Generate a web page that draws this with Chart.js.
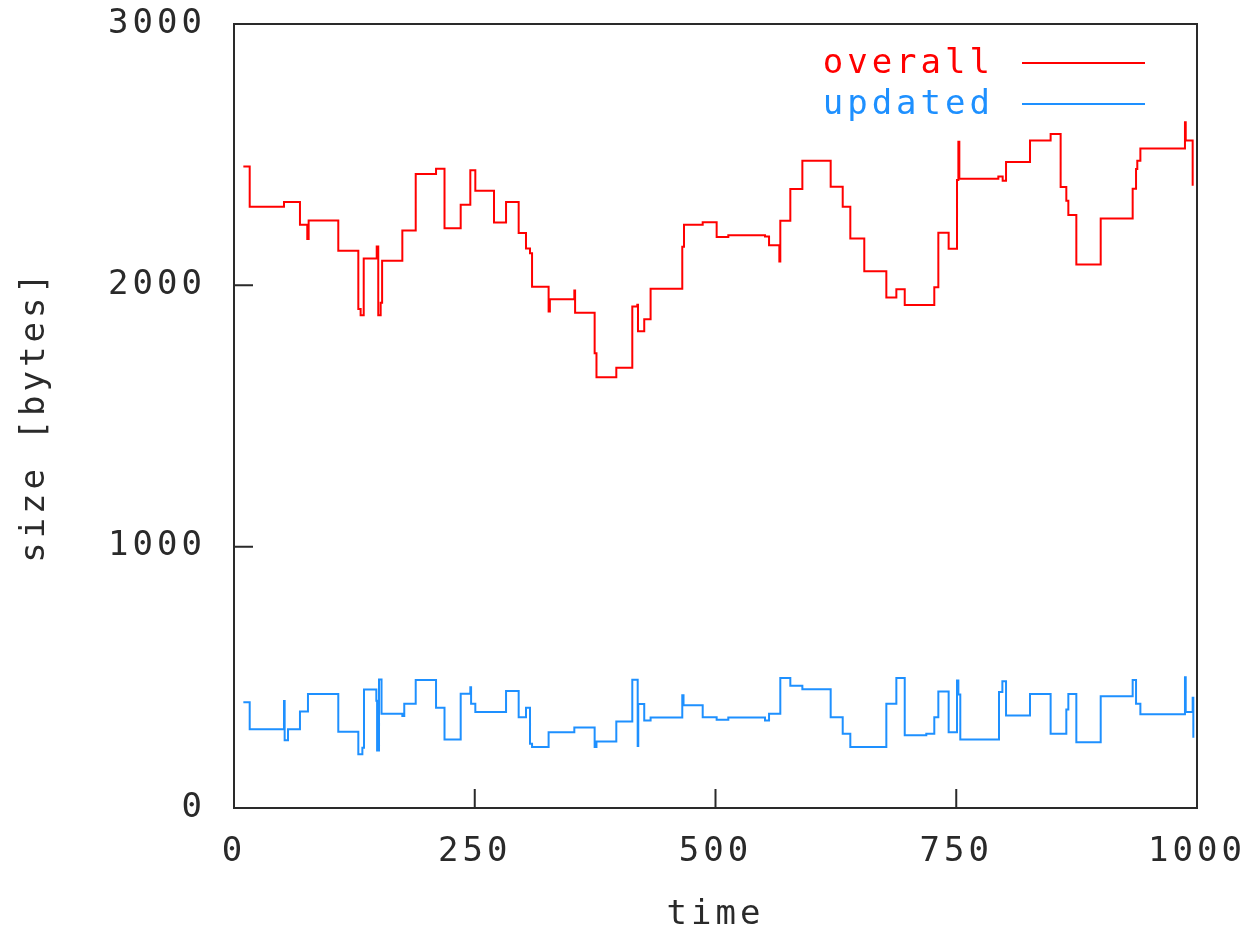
<!DOCTYPE html>
<html>
<head>
<meta charset="utf-8">
<script src="https://cdn.jsdelivr.net/npm/chart.js@4"></script>
<style>
  html, body { margin: 0; padding: 0; background: #fff; }
  canvas { display: block; }
</style>
</head>
<body>
<canvas id="sizes" width="1249" height="928"></canvas>
<script>
// step changes: time at which the size changes, and the new size
const overallTime = [9.7, 16.3, 51.9, 68.5, 76.1, 77.5, 108.3, 129.1, 131.5, 134.7, 148.2, 149.8, 152.3, 153.8,
    174.8, 188.7, 209.8, 218.6, 235.4, 245.4, 250.6, 270, 282.5, 295.6, 303.2, 307.4, 309.5, 326.7, 328,
    353.4, 354.2, 374.5, 376.4, 397, 413.6, 418.8, 419.5, 426, 432.6, 465.5, 467.3, 486.7, 501.2, 513.3,
    551.4, 555.6, 566.3, 567.3, 577.7, 590.2, 619.6, 632.1, 640, 654.5, 677.4, 687.8, 696.5, 727.2, 731.4,
    742.1, 750.8, 752.2, 753.2, 793.7, 798.2, 801.7, 826.6, 848, 858.4, 864.3, 866.4, 874.7, 900, 933.2,
    936.7, 938, 941.2, 987.5, 988.3, 995.5];
const overallSize = [2455, 2301, 2319, 2232, 2177, 2248, 2132, 1909, 1886, 2103, 2149, 1886, 1933, 2094,
    2210, 2426, 2446, 2218, 2308, 2440, 2362, 2240, 2319, 2200, 2141, 2123, 1995, 1900, 1947,
    1980, 1895, 1740, 1648, 1685, 1919, 1926, 1824, 1870, 1987, 2148, 2232, 2241, 2185, 2192,
    2187, 2153, 2091, 2247, 2369, 2477, 2377, 2301, 2179, 2054, 1953, 1985, 1925, 1993, 2201,
    2140, 2403, 2549, 2408, 2416, 2400, 2472, 2554, 2579, 2376, 2324, 2269, 2080, 2256, 2370,
    2445, 2477, 2524, 2624, 2554, 2381];

const updatedTime = [9.7, 16.3, 51.9, 52.6, 56.1, 68.5, 76.8, 108.3, 129.1, 133.3, 135, 147.8, 148.6, 150.6,
    153.2, 174.8, 176.8, 188.7, 209.8, 218.6, 235.4, 245.4, 246.2, 250.6, 282.5, 295.6, 303.2, 307.4, 309.5,
    326.7, 353.4, 374.5, 376.4, 397, 413.6, 419.2, 419.8, 426, 432.6, 465.5, 466.8, 486.7, 501.2, 513.3,
    551.4, 555.6, 567.3, 577.7, 590.2, 619.6, 632.1, 640, 677.4, 687.8, 696.5, 718.9, 727.2, 731.4, 742.1,
    750.8, 752.2, 754.2, 794.4, 797.9, 801.7, 826.6, 848, 864.3, 866.4, 874.7, 900, 933.2, 936.7, 941.2,
    987.5, 988.3, 995.5, 996.2];
const updatedSize = [405, 301, 409, 259, 301, 369, 436, 292, 206, 231, 453, 410, 220, 492,
    361, 352, 399, 490, 384, 262, 437, 462, 399, 367, 448, 347, 384, 246, 233,
    290, 308, 233, 254, 331, 491, 237, 398, 335, 346, 431, 393, 347, 338, 346,
    335, 361, 497, 468, 454, 347, 284, 233, 399, 497, 278, 284, 347, 446, 290,
    488, 434, 262, 444, 485, 354, 436, 284, 377, 436, 252, 428, 490, 399, 359,
    500, 367, 422, 269];

const xTicks = [0, 250, 500, 750, 1000];
const yTicks = [0, 1000, 2000, 3000];

const FONT = '"DejaVu Sans Mono", "Liberation Mono", monospace';
const INK = '#2a2a2a';

const toPoints = (ts, vs) => ts.map((t, i) => ({ x: t, y: vs[i] }));

// labels must not push the plot box around, the layout padding fixes it
const noLabelPadding = (scale) => {
    scale.paddingTop = 0;
    scale.paddingBottom = 0;
    scale.paddingLeft = 0;
    scale.paddingRight = 0;
};

// gnuplot-like frame, inward ticks, legend "text  ——" and letter spacing
const gnuplotLook = {
    id: 'gnuplotLook',
    beforeDraw(chart) {
        chart.ctx.letterSpacing = '4px';
    },
    afterDraw(chart) {
        const { ctx, chartArea: a, scales } = chart;
        ctx.save();
        ctx.strokeStyle = INK;
        ctx.lineWidth = 2;
        ctx.beginPath();
        scales.x.ticks.forEach((t, i) => {
            const px = scales.x.getPixelForTick(i);
            ctx.moveTo(px, a.bottom);
            ctx.lineTo(px, a.bottom - 19);
        });
        scales.y.ticks.forEach((t, i) => {
            const py = scales.y.getPixelForTick(i);
            ctx.moveTo(a.left, py);
            ctx.lineTo(a.left + 19, py);
        });
        ctx.stroke();
        ctx.strokeRect(a.left, a.top, a.right - a.left, a.bottom - a.top);

        ctx.font = '34px ' + FONT;
        ctx.letterSpacing = '4px';
        ctx.textAlign = 'right';
        ctx.textBaseline = 'middle';
        chart.data.datasets.forEach((ds, i) => {
            const y = 64 + 41 * i;
            ctx.fillStyle = ds.borderColor;
            ctx.fillText(ds.label, 994, y);
            ctx.strokeStyle = ds.borderColor;
            ctx.lineWidth = 2;
            ctx.beginPath();
            ctx.moveTo(1022, y - 1);
            ctx.lineTo(1145, y - 1);
            ctx.stroke();
        });
        ctx.restore();
    }
};

new Chart(document.getElementById('sizes'), {
    type: 'line',
    data: {
        datasets: [{
            label: 'overall',
            data: toPoints(overallTime, overallSize),
            borderColor: '#ff0000',
            borderWidth: 2,
            stepped: true,
            pointRadius: 0,
            fill: false
        }, {
            label: 'updated',
            data: toPoints(updatedTime, updatedSize),
            borderColor: '#1e90ff',
            borderWidth: 2,
            stepped: true,
            pointRadius: 0,
            fill: false
        }]
    },
    options: {
        responsive: false,
        animation: false,
        layout: { padding: { left: 0, top: 24, right: 52, bottom: 0 } },
        plugins: {
            legend: { display: false },
            tooltip: { enabled: false }
        },
        scales: {
            x: {
                type: 'linear',
                min: 0,
                max: 1000,
                afterBuildTicks: (scale) => { scale.ticks = xTicks.map(v => ({ value: v })); },
                afterFit: (scale) => { scale.height = 120; noLabelPadding(scale); },
                grid: { display: false, drawTicks: false },
                border: { display: false },
                ticks: {
                    padding: 24,
                    maxRotation: 0,
                    color: INK,
                    font: { family: FONT, size: 34 },
                    callback: (v) => String(v)
                },
                title: {
                    display: true,
                    text: 'time',
                    color: INK,
                    padding: { top: 0, bottom: -4 },
                    font: { family: FONT, size: 34, lineHeight: 1 }
                }
            },
            y: {
                type: 'linear',
                min: 0,
                max: 3000,
                afterBuildTicks: (scale) => { scale.ticks = yTicks.map(v => ({ value: v })); },
                afterFit: (scale) => { scale.width = 234; noLabelPadding(scale); },
                grid: { display: false, drawTicks: false },
                border: { display: false },
                ticks: {
                    padding: 28,
                    color: INK,
                    font: { family: FONT, size: 34 },
                    callback: (v) => String(v)
                },
                title: {
                    display: true,
                    text: 'size [bytes]',
                    color: INK,
                    padding: { top: 18, bottom: 0 },
                    font: { family: FONT, size: 34, lineHeight: 1 }
                }
            }
        }
    },
    plugins: [gnuplotLook]
});
</script>
</body>
</html>
